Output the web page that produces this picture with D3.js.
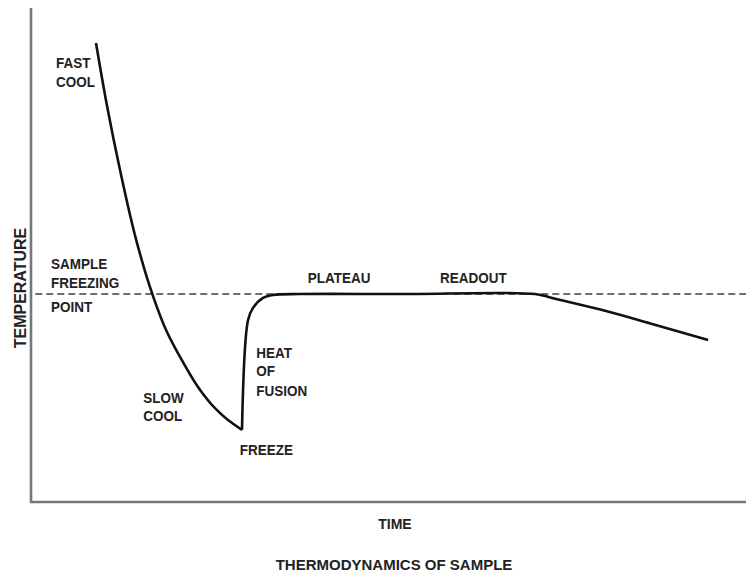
<!DOCTYPE html>
<html>
<head>
<meta charset="utf-8">
<script src="https://cdn.jsdelivr.net/npm/d3@7"></script>
<style>
  body { margin: 0; background: #fff; }
  .lbl { font-family: "Liberation Sans Narrow", "Liberation Sans", Arial, sans-serif; font-weight: bold; fill: #222; }
</style>
</head>
<body>
<div id="wrapper"></div>
<script>
// data (time and temperature in arbitrary 0-100 units)
const coolTime = [9.09, 10.63, 12.45, 14.83, 16.92, 19.02, 21.26, 23.64, 25.73, 27.55, 29.51];
const coolTemp = [92.9, 80.2, 67.2, 52.4, 42.3, 34.4, 28.3, 22.7, 19.0, 16.6, 14.6];
const warmTime = [29.51, 30.35, 31.05, 32.45, 33.85, 37.6, 51.6, 70.5, 72.9, 79.5, 86.5, 94.7];
const warmTemp = [14.6, 36.8, 39.3, 41.3, 41.9, 42.1, 42.1, 42.1, 41.3, 39.0, 36.2, 32.8];
const freezingPoint = 42.1;

const labels = [
  { text: "FAST", t: 3.5, T: 89.0 },
  { text: "COOL", t: 3.5, T: 85.0 },
  { text: "SAMPLE", t: 2.8, T: 48.2 },
  { text: "FREEZING", t: 2.8, T: 44.3 },
  { text: "POINT", t: 2.8, T: 39.5 },
  { text: "PLATEAU", t: 38.7, T: 45.3 },
  { text: "READOUT", t: 57.2, T: 45.3 },
  { text: "HEAT", t: 31.5, T: 30.2 },
  { text: "OF", t: 31.5, T: 26.5 },
  { text: "FUSION", t: 31.5, T: 22.6 },
  { text: "SLOW", t: 15.7, T: 21.2 },
  { text: "COOL", t: 15.7, T: 17.4 },
  { text: "FREEZE", t: 29.2, T: 10.5 }
];

const dimensions = {
  width: 746,
  height: 573,
  margin: { top: 8, right: 0, bottom: 71, left: 31 }
};
dimensions.boundedWidth = dimensions.width - dimensions.margin.left - dimensions.margin.right;
dimensions.boundedHeight = dimensions.height - dimensions.margin.top - dimensions.margin.bottom;

const svg = d3.select("#wrapper").append("svg")
  .attr("width", dimensions.width)
  .attr("height", dimensions.height);

const bounds = svg.append("g")
  .attr("transform", `translate(${dimensions.margin.left},${dimensions.margin.top})`);

// scales
const x = d3.scaleLinear().domain([0, 100]).range([0, dimensions.boundedWidth]);
const y = d3.scaleLinear().domain([0, 100]).range([dimensions.boundedHeight, 0]);

// dashed freezing point line
bounds.append("line")
  .attr("x1", x(0.6)).attr("x2", x(100))
  .attr("y1", y(freezingPoint)).attr("y2", y(freezingPoint))
  .attr("stroke", "#6e6e6e")
  .attr("stroke-width", 2)
  .attr("stroke-dasharray", "7,4");

// curve: cooling branch (temperature only falls) and recovery branch meet at the freeze point
const coolLine = d3.line()
  .x(d => x(d[0]))
  .y(d => y(d[1]))
  .curve(d3.curveMonotoneY);

const warmLine = d3.line()
  .x(d => x(d[0]))
  .y(d => y(d[1]))
  .curve(d3.curveCatmullRom.alpha(0.5));

[[coolTime, coolTemp, coolLine], [warmTime, warmTemp, warmLine]].forEach(([ts, Ts, gen]) => {
  bounds.append("path")
    .datum(ts.map((t, i) => [t, Ts[i]]))
    .attr("d", gen)
    .attr("fill", "none")
    .attr("stroke", "#111")
    .attr("stroke-width", 2.6)
    .attr("stroke-linejoin", "round");
});

// axes (plain lines, no ticks)
bounds.append("path")
  .attr("d", `M${x(0)},${y(100)}V${y(0)}H${x(100)}`)
  .attr("fill", "none")
  .attr("stroke", "#777")
  .attr("stroke-width", 2.6);

// annotations (slightly condensed like the original lettering)
bounds.selectAll(".note")
  .data(labels)
  .join("text")
  .attr("class", "lbl note")
  .attr("transform", d => `translate(${x(d.t)},${y(d.T)}) scale(0.9,1)`)
  .attr("dominant-baseline", "central")
  .style("font-size", "15px")
  .text(d => d.text);

svg.append("text")
  .attr("class", "lbl")
  .attr("transform", `translate(20,288) rotate(-90)`)
  .attr("text-anchor", "middle")
  .attr("dominant-baseline", "central")
  .style("font-size", "16px")
  .text("TEMPERATURE");

svg.append("text")
  .attr("class", "lbl")
  .attr("x", 395).attr("y", 524)
  .attr("text-anchor", "middle")
  .attr("dominant-baseline", "central")
  .style("font-size", "14px")
  .text("TIME");

svg.append("text")
  .attr("class", "lbl")
  .attr("x", 394).attr("y", 564)
  .attr("text-anchor", "middle")
  .attr("dominant-baseline", "central")
  .style("font-size", "15px")
  .text("THERMODYNAMICS OF SAMPLE");
</script>
</body>
</html>
